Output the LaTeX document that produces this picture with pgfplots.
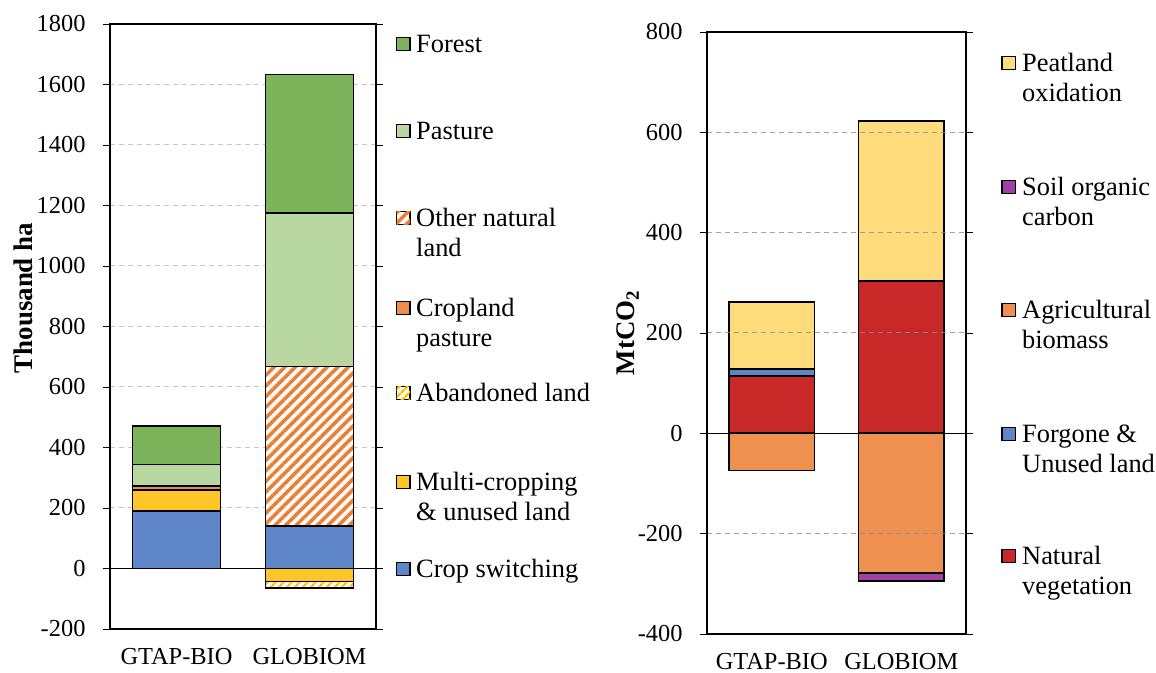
\documentclass[border=0pt]{standalone}
\usepackage{fontspec}
\setmainfont{Liberation Serif}
\usepackage{pgfplots}
\pgfplotsset{compat=1.18}
\usetikzlibrary{patterns.meta}
\definecolor{cForest}{HTML}{7DB35A}
\definecolor{cPasture}{HTML}{B8D7A1}
\definecolor{cOrange}{HTML}{ED7D31}
\definecolor{cCropPast}{HTML}{EE8D4E}
\definecolor{cYellow}{HTML}{FFC000}
\definecolor{cMulti}{HTML}{FFC629}
\definecolor{cBlue}{HTML}{5F85C9}
\definecolor{cPeat}{HTML}{FFDC7B}
\definecolor{cSoil}{HTML}{A142A3}
\definecolor{cAgri}{HTML}{EE9150}
\definecolor{cNat}{HTML}{C82828}
\tikzset{
  hatchO/.style={fill=white, postaction={pattern={Lines[angle=45,distance=7.5bp,line width=3.5bp]}, pattern color=cOrange}},
  hatchY/.style={fill=white, postaction={pattern={Lines[angle=45,distance=6bp,line width=2.8bp]}, pattern color=cYellow}},
}
\newcommand{\tfont}{\fontsize{24.5}{28}\selectfont}
\newcommand{\lfont}{\fontsize{26.5}{30}\selectfont}
\newcommand{\legsq}[3]{\draw[line width=1.5bp, #3] (#1,#2-6.5) rectangle ++(13.5,13);}
\newcommand{\legtx}[3]{\node[anchor=base west, inner sep=0pt, font=\lfont] at (#1,#2-8.5) {#3};}
\pgfplotsset{
  mybase/.style={
    scale only axis,
    anchor=south west,
    ybar stacked,
    bar width=0.66,
    xmin=-0.5, xmax=1.5,
    xtick={0,1}, xticklabels={GTAP-BIO,GLOBIOM},
    x tick style={draw=none},
    ytick distance=200,
    tick align=outside,
    major tick length=7bp,
    y tick style={black, line width=0.9bp},
    axis line style={black, line width=1.2bp},
    ymajorgrids,
    tick label style={font=\tfont},
    yticklabel style={xshift=-14bp},
    xticklabel style={yshift=-9bp},
    /pgf/number format/assume math mode=true,
    /pgf/number format/1000 sep={},
    every axis y label/.style={rotate=90, anchor=center, font=\bfseries\fontsize{27}{30}\selectfont},
    every axis plot/.append style={draw=black, line width=1.7bp},
    extra y ticks={0}, extra y tick labels={},
    extra y tick style={grid=major, major grid style={solid, black, line width=0.9bp, opacity=1}},
  }
}
\begin{document}
\begin{tikzpicture}[x=1bp,y=1bp]
\useasboundingbox (0,0) rectangle (1156,673);
% ---------------- left chart (thousand ha) ----------------
\begin{axis}[mybase,
  at={(110bp,44bp)}, width=266bp, height=605bp,
  ymin=-200, ymax=1800,
  ylabel={Thousand ha},
  y label style={at={(axis description cs:-0.327,0.547)}},
  grid style={dash pattern=on 5bp off 4bp, color=black!22, line width=1bp},
]
% negative values are stacked separately below zero
\addplot[fill=cBlue]      coordinates {(0,191) (1,140)};  % Crop switching
\addplot[fill=cMulti]     coordinates {(0,69)  (1,-43)};  % Multi-cropping & unused land
\addplot[hatchY]          coordinates {(0,0)   (1,-22)};  % Abandoned land
\addplot[fill=cCropPast]  coordinates {(0,12)  (1,0)};    % Cropland pasture
\addplot[hatchO]          coordinates {(0,0)   (1,528)};  % Other natural land
\addplot[fill=cPasture]   coordinates {(0,72)  (1,508)};  % Pasture
\addplot[fill=cForest]    coordinates {(0,128) (1,457)};  % Forest
\end{axis}
% ---------------- right chart (MtCO2) ----------------
\begin{axis}[mybase,
  at={(707bp,39bp)}, width=259bp, height=602bp,
  ymin=-400, ymax=800,
  axis on top,
  ylabel={MtCO\textsubscript{2}},
  y label style={at={(axis description cs:-0.305,0.5)}},
  grid style={dash pattern=on 5bp off 4bp, color=black!45, opacity=0.8, line width=1bp},
]
\addplot[fill=cAgri] coordinates {(0,-74) (1,-278)};  % Agricultural biomass
\addplot[fill=cSoil] coordinates {(0,0)   (1,-17)};   % Soil organic carbon
\addplot[fill=cNat]  coordinates {(0,114) (1,304)};   % Natural vegetation
\addplot[fill=cBlue] coordinates {(0,14)  (1,0)};     % Forgone & Unused land
\addplot[fill=cPeat] coordinates {(0,134) (1,319)};   % Peatland oxidation
\end{axis}
% ---------------- legends ----------------
\legsq{396.5}{629}{fill=cForest}\legtx{416}{629}{Forest}
\legsq{396.5}{542}{fill=cPasture}\legtx{416}{542}{Pasture}
\legsq{396.5}{455}{hatchO}\legtx{416}{455}{Other natural}\legtx{416}{425}{land}
\legsq{396.5}{365}{fill=cCropPast}\legtx{416}{365}{Cropland}\legtx{416}{335}{pasture}
\legsq{396.5}{280}{hatchY}\legtx{416}{280}{Abandoned land}
\legsq{396.5}{191}{fill=cMulti}\legtx{416}{191}{Multi-cropping}\legtx{416}{161}{\& unused land}
\legsq{396.5}{104}{fill=cBlue}\legtx{416}{104}{Crop switching}
%
\legsq{1002}{610}{fill=cPeat}\legtx{1022}{610}{Peatland}\legtx{1022}{580}{oxidation}
\legsq{1002}{486}{fill=cSoil}\legtx{1022}{486}{Soil organic}\legtx{1022}{456}{carbon}
\legsq{1002}{363}{fill=cAgri}\legtx{1022}{363}{Agricultural}\legtx{1022}{333}{biomass}
\legsq{1002}{239}{fill=cBlue}\legtx{1022}{239}{Forgone \&}\legtx{1022}{209}{Unused land}
\legsq{1002}{117}{fill=cNat}\legtx{1022}{117}{Natural}\legtx{1022}{87}{vegetation}
\end{tikzpicture}
\end{document}
